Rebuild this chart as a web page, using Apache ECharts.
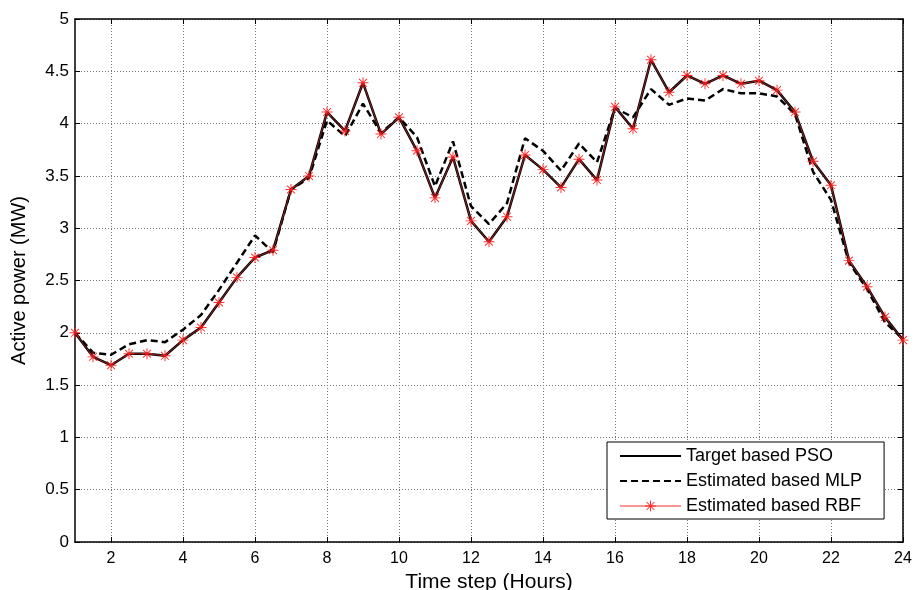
<!DOCTYPE html>
<html>
<head>
<meta charset="utf-8">
<script src="https://cdn.jsdelivr.net/npm/echarts@6/dist/echarts.min.js"></script>
<style>
  html, body { margin: 0; padding: 0; background: #fff; }
  #chart { width: 915px; height: 590px; }
</style>
</head>
<body>
<div id="chart"></div>
<script>
// Half-hour time steps from 1 h to 24 h
const hours = [1, 1.5, 2, 2.5, 3, 3.5, 4, 4.5, 5, 5.5, 6, 6.5, 7, 7.5, 8, 8.5,
  9, 9.5, 10, 10.5, 11, 11.5, 12, 12.5, 13, 13.5, 14, 14.5, 15, 15.5, 16, 16.5,
  17, 17.5, 18, 18.5, 19, 19.5, 20, 20.5, 21, 21.5, 22, 22.5, 23, 23.5, 24];

// Active power (MW)
const targetPSO = [2.00, 1.77, 1.69, 1.80, 1.80, 1.78, 1.93, 2.05, 2.29, 2.53, 2.72, 2.79,
  3.37, 3.50, 4.11, 3.93, 4.39, 3.90, 4.06, 3.74, 3.29, 3.68, 3.07, 2.87,
  3.11, 3.70, 3.56, 3.39, 3.66, 3.46, 4.16, 3.95, 4.61, 4.30, 4.46, 4.38,
  4.46, 4.38, 4.41, 4.32, 4.11, 3.64, 3.41, 2.69, 2.44, 2.15, 1.93];

const estimatedMLP = [2.00, 1.81, 1.79, 1.89, 1.93, 1.91, 2.03, 2.17, 2.41, 2.67, 2.93, 2.77,
  3.37, 3.48, 4.03, 3.88, 4.19, 3.91, 4.06, 3.87, 3.40, 3.83, 3.21, 3.04,
  3.24, 3.86, 3.74, 3.55, 3.81, 3.63, 4.15, 4.06, 4.33, 4.18, 4.24, 4.22,
  4.33, 4.29, 4.29, 4.26, 4.09, 3.54, 3.27, 2.67, 2.42, 2.10, 1.94];

const estimatedRBF = [2.00, 1.77, 1.69, 1.80, 1.80, 1.78, 1.93, 2.05, 2.29, 2.53, 2.72, 2.79,
  3.37, 3.50, 4.11, 3.93, 4.39, 3.90, 4.06, 3.74, 3.29, 3.68, 3.07, 2.87,
  3.11, 3.70, 3.56, 3.39, 3.66, 3.46, 4.16, 3.95, 4.61, 4.30, 4.46, 4.38,
  4.46, 4.38, 4.41, 4.32, 4.11, 3.64, 3.41, 2.69, 2.44, 2.15, 1.93];

const xTicks = [2, 4, 6, 8, 10, 12, 14, 16, 18, 20, 22, 24];

const pairs = (ys) => hours.map((h, i) => [h, ys[i]]);

// Asterisk marker: a plus and a cross built from thin bars
const asterisk = 'path://M-0.7,-8L0.7,-8L0.7,8L-0.7,8Z' +
  'M-8,-0.7L8,-0.7L8,0.7L-8,0.7Z' +
  'M-6.2,-5.2L-5.2,-6.2L6.2,5.2L5.2,6.2Z' +
  'M5.2,-6.2L6.2,-5.2L-5.2,6.2L-6.2,5.2Z';

const font = 'Liberation Sans, Arial, Helvetica, sans-serif';

const gridLine = { show: true, lineStyle: { color: '#777', width: 1, type: [1, 2] } };
const axisLine = { show: true, onZero: false, lineStyle: { color: '#000', width: 1.5 } };

const chart = echarts.init(document.getElementById('chart'), null, { renderer: 'canvas' });

chart.setOption({
  backgroundColor: '#fff',
  animation: false,
  textStyle: { fontFamily: font, color: '#000' },
  grid: { left: 75, right: 12, top: 19, bottom: 48, containLabel: false, outerBoundsMode: 'none' },
  xAxis: [{
    type: 'value', min: 1, max: 24,
    name: 'Time step (Hours)', nameLocation: 'middle', nameGap: 27,
    nameTextStyle: { fontSize: 21, color: '#000', fontFamily: font },
    axisLine: axisLine,
    axisTick: { show: true, inside: true, length: 5, customValues: xTicks, lineStyle: { color: '#000' } },
    axisLabel: { customValues: xTicks, fontSize: 16, color: '#000', margin: 9, fontFamily: font },
    splitLine: gridLine
  }, {
    type: 'value', min: 1, max: 24, position: 'top',
    axisLine: axisLine,
    axisTick: { show: true, inside: true, length: 5, customValues: xTicks, lineStyle: { color: '#000' } },
    axisLabel: { show: false },
    splitLine: { show: false }
  }],
  yAxis: [{
    type: 'value', min: 0, max: 5, interval: 0.5,
    name: 'Active power (MW)', nameLocation: 'middle', nameGap: 46,
    nameTextStyle: { fontSize: 20, color: '#000', fontFamily: font },
    axisLine: axisLine,
    axisTick: { show: true, inside: true, length: 5, lineStyle: { color: '#000' } },
    axisLabel: { fontSize: 17, color: '#000', margin: 6, fontFamily: font },
    splitLine: gridLine
  }, {
    type: 'value', min: 0, max: 5, interval: 0.5, position: 'right',
    axisLine: axisLine,
    axisTick: { show: true, inside: true, length: 5, lineStyle: { color: '#000' } },
    axisLabel: { show: false },
    splitLine: { show: false }
  }],
  legend: {
    orient: 'vertical',
    left: 607, top: 442,
    backgroundColor: '#fff',
    borderColor: '#000', borderWidth: 1,
    padding: [5, 22, 4, 12],
    itemWidth: 61, itemHeight: 14, itemGap: 7,
    textStyle: { fontSize: 18, color: '#000', fontFamily: font },
    data: ['Target based PSO', 'Estimated based MLP', 'Estimated based RBF']
  },
  series: [{
    name: 'Target based PSO',
    type: 'line',
    data: pairs(targetPSO),
    showSymbol: false, symbol: 'none',
    z: 3,
    lineStyle: { color: '#000', width: 2.5 },
    itemStyle: { color: 'rgba(0,0,0,0)' }
  }, {
    name: 'Estimated based MLP',
    type: 'line',
    data: pairs(estimatedMLP),
    showSymbol: false, symbol: 'none',
    z: 2,
    lineStyle: { color: '#000', width: 2.5, type: [7, 4] },
    itemStyle: { color: 'rgba(0,0,0,0)' }
  }, {
    name: 'Estimated based RBF',
    type: 'line',
    data: pairs(estimatedRBF),
    symbol: asterisk, symbolSize: 11,
    z: 4,
    lineStyle: { color: 'rgba(255,60,60,0.55)', width: 1 },
    itemStyle: { color: '#ff1a1a', opacity: 0.9 }
  }]
});
</script>
</body>
</html>
